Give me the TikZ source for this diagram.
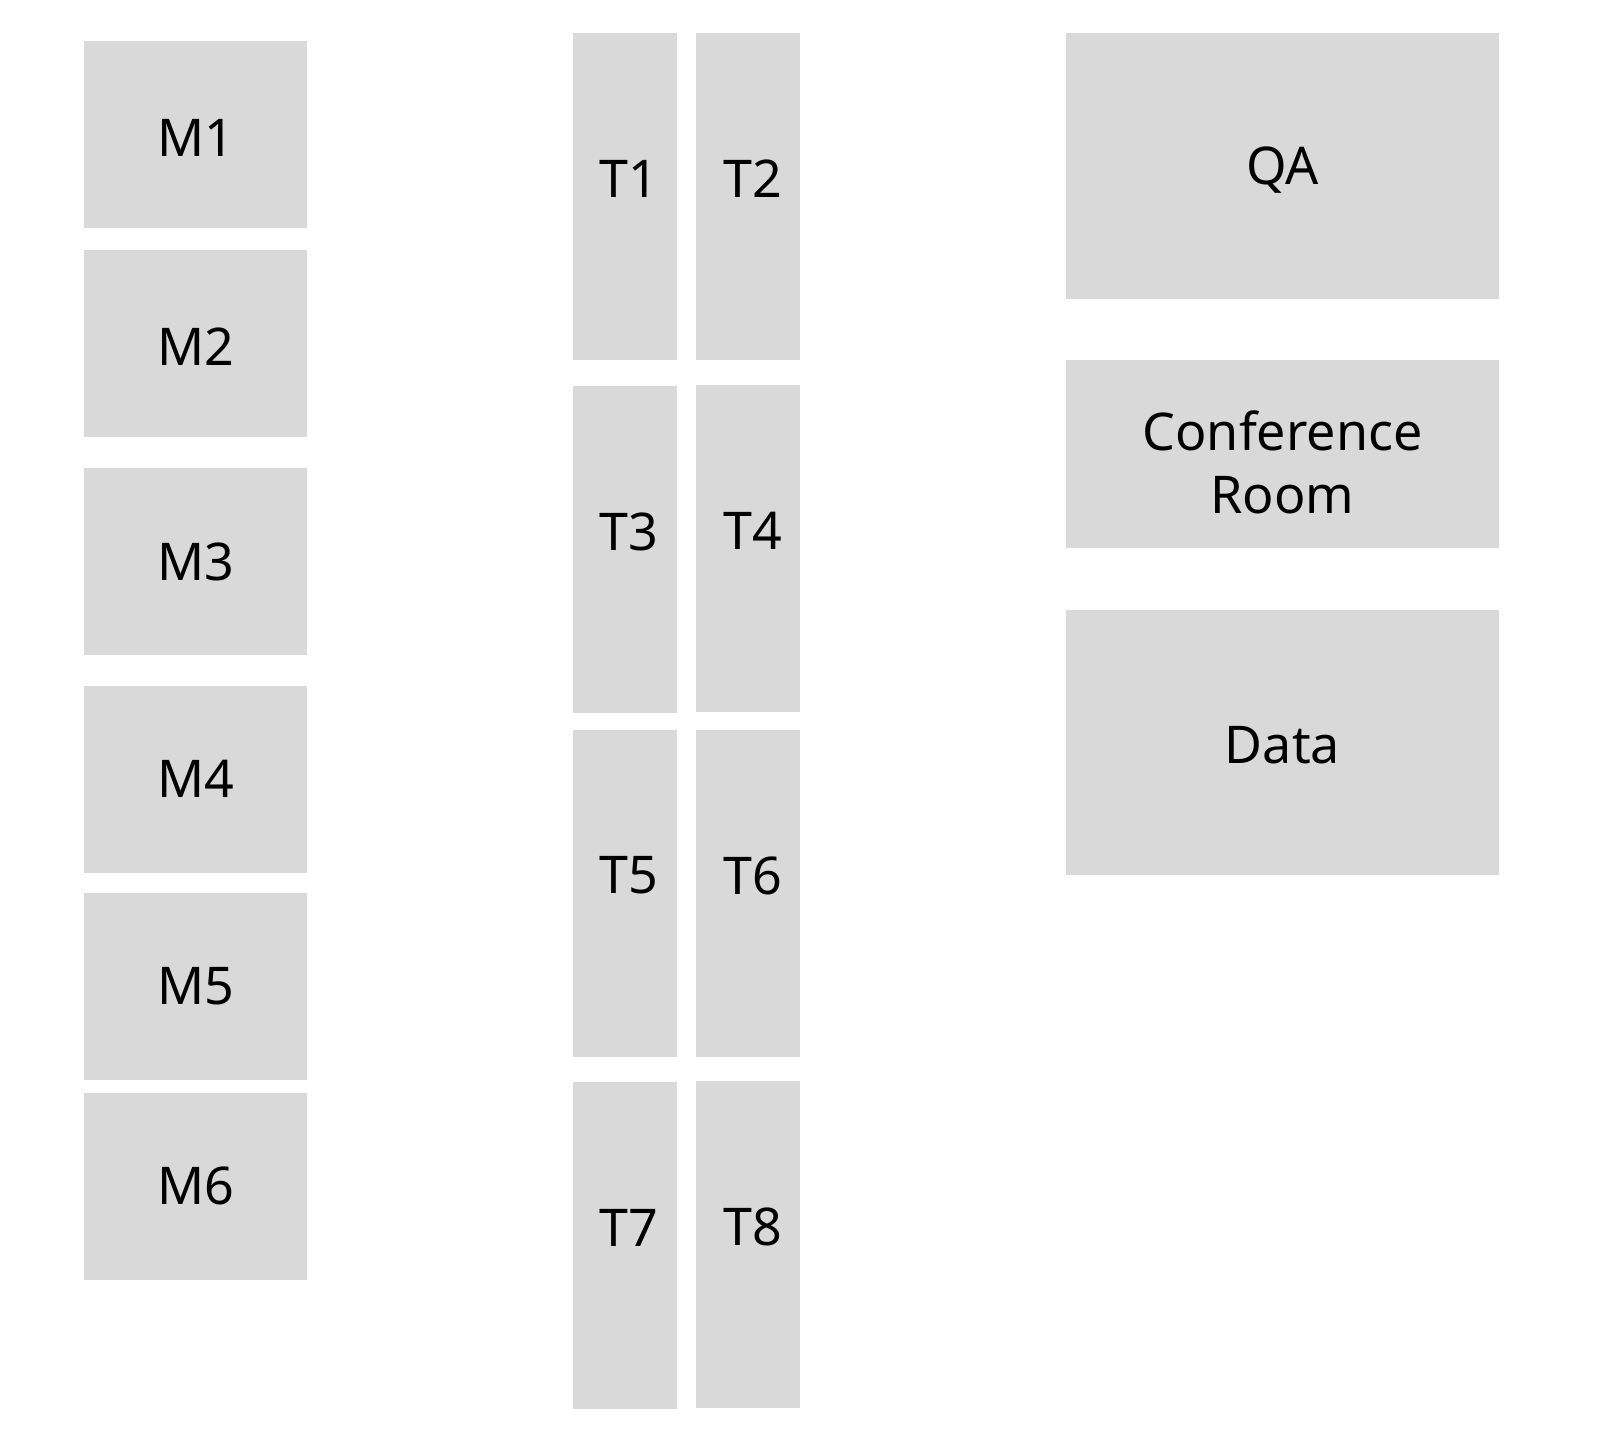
\documentclass[tikz,border=0pt]{standalone}
\usepackage{fontspec}
\setmainfont{Noto Sans}
\definecolor{roomgray}{HTML}{D9D9D9}
\tikzset{
	room/.style={fill=roomgray,draw=none,inner sep=0pt},
	roomtext/.style={font=\fontsize{26}{31.5}\selectfont,align=center,inner sep=0pt},
	mroom/.style={room,minimum width=111.5pt,minimum height=93.5pt},
	troom/.style={room,minimum width=52pt,minimum height=163.5pt},
	broom/.style={room,minimum width=216.5pt}
}
\begin{document}
\begin{tikzpicture}[x=0.5pt,y=-0.5pt]
			\useasboundingbox[fill=white] (0,0) rectangle (1606,1430);
			
			% managers
			\foreach \i/\y/\s in {1/134/-2,2/343.5/-1.5,3/561.5/0,4/779/0,5/986/0,6/1186/0}
			\node[mroom,label={[roomtext,yshift=\s pt]center:M\i}] (m\i) at (195.5,\y) {};
			
			% team desks
			\foreach \i/\y in {1/196.5,3/549,5/893,7/1245.5}
			\node[troom,label={[roomtext,xshift=2pt,yshift=8.75pt]center:T\i}] (t\i) at (625,\y) {};
			\foreach \i/\y in {2/196.5,4/548,6/893,8/1244}
			\node[troom,label={[roomtext,xshift=2.5pt,yshift=8.75pt]center:T\i}] (t\i) at (748,\y) {};
			
			% other rooms
			\node[broom,minimum height=133pt,label={[roomtext,yshift=-2pt]center:QA}] (qa) at (1282.5,166) {};
			\node[broom,minimum height=94pt,label={[roomtext,yshift=-4pt]center:Conference\\Room}] (conf) at (1282.5,454) {};
			\node[broom,minimum height=132.5pt,label={[roomtext,yshift=-1.5pt]center:Data}] (data) at (1282.5,742.5) {};
\end{tikzpicture}
\end{document}
